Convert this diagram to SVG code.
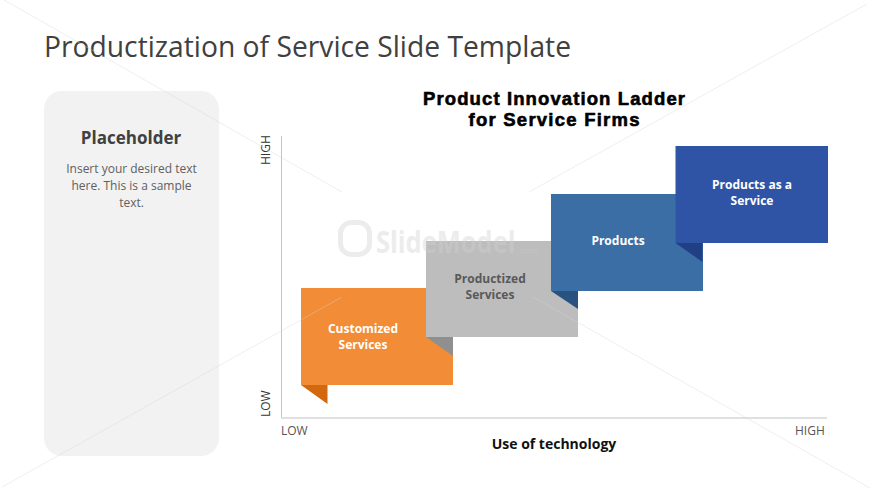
<svg xmlns="http://www.w3.org/2000/svg" width="870" height="489" viewBox="0 0 870 489">
<style>
.ui{font-family:"Open Sans","Noto Sans","Liberation Sans",sans-serif}
.lbl{font-family:"Open Sans","Noto Sans",sans-serif;font-size:12px;font-weight:700;text-anchor:middle}
.w{fill:#fff}
.axis{font-family:"Open Sans","Noto Sans",sans-serif;font-size:12px;fill:#555}
.axisv{font-family:"Open Sans","Noto Sans",sans-serif;font-size:12px;fill:#333}
.h{font-family:"Liberation Sans",Arial,sans-serif;font-size:18.500px;font-weight:700;fill:#000;text-anchor:middle;stroke:#000;stroke-width:.6}
.bg{stroke:#d5d5d5;stroke-width:1;fill:none;opacity:.4}
</style>
<rect width="870" height="489" fill="#fff"/>
<text x="44" y="56.500" font-family="'Open Sans','Noto Sans',sans-serif" font-size="29" fill="#404040" textLength="527" lengthAdjust="spacingAndGlyphs">Productization of Service Slide Template</text>
<g id="placeholder">
<rect x="44" y="91" width="175" height="365" rx="18" fill="#f2f2f2"/>
<text x="131" y="144" class="ui" font-size="17" font-weight="700" fill="#404040" text-anchor="middle">Placeholder</text>
<g class="ui" font-size="12" fill="#606060" text-anchor="middle">
<text x="131.500" y="173">Insert your desired text</text>
<text x="131.500" y="190">here. This is a sample</text>
<text x="131.500" y="207">text.</text>
</g>
</g>
<g id="title">
<text x="554" y="105" class="h" textLength="262" lengthAdjust="spacing">Product Innovation Ladder</text>
<text x="554" y="126" class="h" textLength="171" lengthAdjust="spacing">for Service Firms</text>
</g>
<g id="connectors">
<path d="M281.500 136V418" fill="none" stroke="#c4c4c4" stroke-width="1"/>
<path d="M281 418H827" fill="none" stroke="#e0e0e0" stroke-width="2"/>
</g>
<g id="axis-labels">
<text class="axisv" transform="translate(270,165) rotate(-90)">HIGH</text>
<text class="axisv" transform="translate(270,417) rotate(-90)">LOW</text>
<text class="axis" x="281" y="435">LOW</text>
<text class="axis" x="795" y="435">HIGH</text>
<text x="554" y="449" font-family="'Open Sans','Noto Sans',sans-serif" font-size="14" font-weight="700" fill="#111" text-anchor="middle">Use of technology</text>
</g>
<g id="customized-services">
<rect x="301" y="288" width="152" height="97" fill="#f28c36"/>
<path d="M301 385H327.500V404Z" fill="#d2690f"/>
<text class="lbl w" x="363" y="332.500">Customized</text>
<text class="lbl w" x="363" y="348.500">Services</text>
</g>
<g id="productized-services">
<rect x="426" y="241" width="152" height="96" fill="#bdbdbd"/>
<path d="M426 337H453V356Z" fill="#8f8f8f"/>
<text class="lbl" fill="#595959" x="490" y="283">Productized</text>
<text class="lbl" fill="#595959" x="490" y="299">Services</text>
</g>
<g id="products">
<rect x="551" y="194" width="152" height="97" fill="#3a6ea5"/>
<path d="M551 291H578V309Z" fill="#28527f"/>
<text class="lbl w" x="618" y="245">Products</text>
</g>
<g id="products-as-a-service">
<rect x="675.500" y="146" width="152.500" height="97" fill="#2f54a5"/>
<path d="M675.500 243H702.500V262Z" fill="#213f85"/>
<text class="lbl w" x="752" y="189">Products as a</text>
<text class="lbl w" x="752" y="205">Service</text>
</g>
<g id="watermark-lines">
<path class="bg" d="M4 0L342 192M867 4L529 192M2 487L342 297M533 297L870 488"/>
</g>
<g id="watermark" opacity=".4">
<rect x="340.500" y="222.500" width="29" height="32" rx="11" fill="none" stroke="#d0d0d0" stroke-width="5"/>
<text transform="translate(376,253) scale(.85,1)" font-family="'Open Sans','Noto Sans',sans-serif" font-weight="700" font-size="30" fill="#d0d0d0">SlideModel</text>
<text x="519" y="253" font-family="'Open Sans','Noto Sans',sans-serif" font-size="8" fill="#d0d0d0">.com</text>
</g>
</svg>
